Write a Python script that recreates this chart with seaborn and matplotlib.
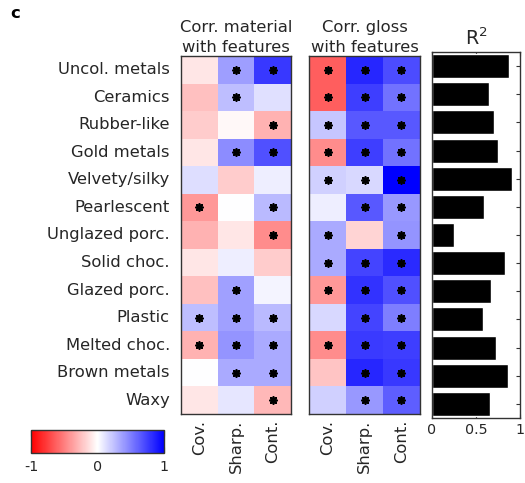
import numpy as np
import pandas as pd
import matplotlib
matplotlib.use("Agg")
import matplotlib.pyplot as plt
from matplotlib.colors import LinearSegmentedColormap
import seaborn as sns

sns.set_style("white")
plt.rcParams["font.family"] = ["DejaVu Sans"]
TXT = "#262626"
plt.rcParams["text.color"] = TXT
plt.rcParams["xtick.color"] = TXT
plt.rcParams["ytick.color"] = TXT

materials = ["Uncol. metals", "Ceramics", "Rubber-like", "Gold metals", "Velvety/silky",
             "Pearlescent", "Unglazed porc.", "Solid choc.", "Glazed porc.", "Plastic",
             "Melted choc.", "Brown metals", "Waxy"]
features = ["Cov.", "Sharp.", "Cont."]

# correlation of material ratings with the features (Cov., Sharp., Cont.)
corr_material = [
    [-0.10, 0.38, 0.78],
    [-0.25, 0.25, 0.12],
    [-0.20, -0.03, -0.30],
    [-0.10, 0.45, 0.68],
    [0.13, -0.20, 0.07],
    [-0.40, 0.00, 0.27],
    [-0.30, -0.10, -0.45],
    [-0.10, 0.07, -0.20],
    [-0.25, 0.37, 0.04],
    [0.25, 0.37, 0.27],
    [-0.30, 0.42, 0.33],
    [0.00, 0.33, 0.33],
    [-0.10, 0.10, -0.28],
]
sig_material = [
    [0, 1, 1], [0, 1, 0], [0, 0, 1], [0, 1, 1], [0, 0, 0], [1, 0, 1], [0, 0, 1],
    [0, 0, 0], [0, 1, 0], [1, 1, 1], [1, 1, 1], [0, 1, 1], [0, 0, 1],
]

# correlation of gloss ratings with the features
corr_gloss = [
    [-0.63, 0.85, 0.70],
    [-0.63, 0.75, 0.55],
    [0.22, 0.65, 0.65],
    [-0.45, 0.75, 0.55],
    [0.18, 0.15, 1.00],
    [0.07, 0.65, 0.40],
    [0.33, -0.17, 0.42],
    [0.33, 0.73, 0.83],
    [-0.40, 0.80, 0.68],
    [0.15, 0.73, 0.50],
    [-0.45, 0.77, 0.75],
    [-0.23, 0.85, 0.78],
    [0.18, 0.40, 0.63],
]
sig_gloss = [
    [1, 1, 1], [1, 1, 1], [1, 1, 1], [1, 1, 1], [1, 1, 1], [0, 1, 1], [1, 0, 1],
    [1, 1, 1], [1, 1, 1], [0, 1, 1], [1, 1, 1], [0, 1, 1], [0, 1, 1],
]

r_squared = [0.88, 0.645, 0.70, 0.755, 0.91, 0.595, 0.245, 0.83, 0.67, 0.58, 0.725, 0.86, 0.66]

cmap = LinearSegmentedColormap.from_list("rwb", ["#ff0000", "#ffffff", "#0000ff"])

W, H = 525, 483
fig = plt.figure(figsize=(W / 100, H / 100), dpi=100)


def box(l, t, r, b):
    return [l / W, 1 - b / H, (r - l) / W, (b - t) / H]


ax1 = fig.add_axes(box(181, 56, 291, 414))
ax2 = fig.add_axes(box(309, 56, 420, 414))
ax3 = fig.add_axes(box(432, 52, 520, 418))
cax = fig.add_axes(box(31, 430, 164, 453))

FS = 11.8
edge = "#333333"


def draw_heat(ax, vals, sig, title, show_labels):
    df = pd.DataFrame(vals, index=materials, columns=features)
    sns.heatmap(df, ax=ax, cmap=cmap, vmin=-1, vmax=1, cbar=False, linewidths=0)
    s = np.array(sig)
    rr, cc = np.nonzero(s)
    ax.scatter(cc + 0.5, rr + 0.5, marker=(8, 2, 0), s=26, color="black",
               linewidths=1.3, zorder=3)
    for sp in ax.spines.values():
        sp.set_visible(True)
        sp.set_color(edge)
        sp.set_linewidth(1.0)
    ax.set_xticks(np.arange(3) + 0.5)
    ax.set_xticklabels(features, rotation=90, fontsize=FS)
    ax.set_yticks(np.arange(len(materials)) + 0.5)
    if show_labels:
        ax.set_yticklabels(materials, fontsize=FS, rotation=0)
    else:
        ax.set_yticklabels([])
    ax.tick_params(axis="both", direction="in", length=3, width=0.8, color=edge,
                   top=True, right=True, bottom=True, left=True)
    ax.tick_params(axis="y", pad=8)
    ax.tick_params(axis="x", pad=4)
    ax.set_xlabel("")
    ax.set_ylabel("")
    ax.set_title(title, fontsize=FS, pad=3, linespacing=1.4)


draw_heat(ax1, corr_material, sig_material, "Corr. material\nwith features", True)
draw_heat(ax2, corr_gloss, sig_gloss, "Corr. gloss\nwith features", False)

# explained variance per material
rdf = pd.DataFrame({"material": materials, "r2": r_squared})
sns.barplot(data=rdf, x="r2", y="material", ax=ax3, color="black", orient="h",
            width=0.85, saturation=1)
ax3.set_xlim(0, 1)
ax3.set_ylim(len(materials) - 0.5, -0.5)
ax3.set_xticks([0, 0.5, 1])
ax3.set_xticklabels(["0", "0.5", "1"], fontsize=FS - 1.5)
ax3.set_yticklabels([])
ax3.set_xlabel("")
ax3.set_ylabel("")
for sp in ax3.spines.values():
    sp.set_visible(True)
    sp.set_color(edge)
    sp.set_linewidth(1.0)
ax3.tick_params(axis="both", direction="in", length=3, width=0.8, color=edge,
                top=True, right=True, bottom=True, left=True)
ax3.set_title("R$^2$", fontsize=FS + 2, pad=5)

# colour scale
sm = plt.cm.ScalarMappable(cmap=cmap, norm=plt.Normalize(-1, 1))
cb = fig.colorbar(sm, cax=cax, orientation="horizontal")
cb.set_ticks([-1, -0.5, 0, 0.5, 1])
cb.set_ticklabels(["-1", "", "0", "", "1"])
cb.ax.tick_params(direction="in", length=4, width=0.8, color=edge, labelsize=FS - 1.5,
                  top=True, bottom=True, pad=5)
cb.outline.set_edgecolor(edge)
cb.outline.set_linewidth(1.0)

fig.text(10 / W, 1 - 14 / H, "c", fontsize=FS, fontweight="bold", va="center", ha="left",
         color="black")

fig.savefig("out.png", dpi=100)
